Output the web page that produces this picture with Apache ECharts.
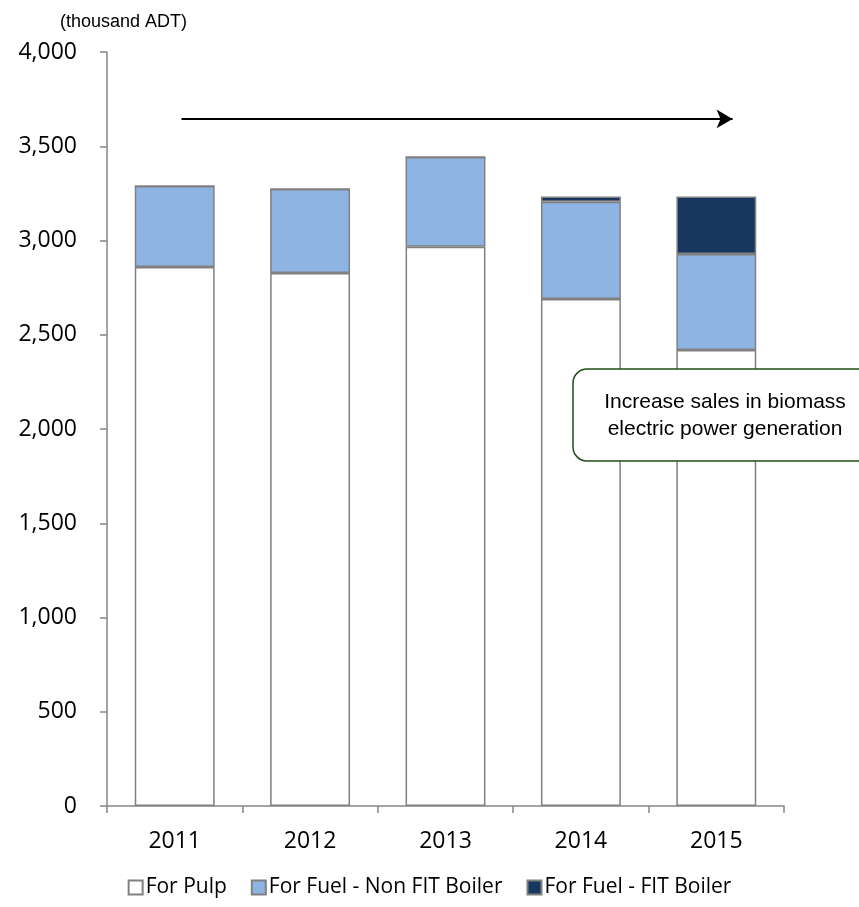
<!DOCTYPE html>
<html><head><meta charset="utf-8">
<script src="https://cdn.jsdelivr.net/npm/echarts@6/dist/echarts.min.js"></script>
<style>html,body{margin:0;padding:0;background:#fff}#c{width:859px;height:907px}</style>
</head><body><div id="c"></div>
<script>
var years = ['2011','2012','2013','2014','2015'];
var forPulp = [2859, 2827, 2967, 2690, 2419];
var nonFit = [430, 446, 476, 516, 509];
var fitBoiler = [0, 0, 0, 28, 306];
var yTicks = [0, 500, 1000, 1500, 2000, 2500, 3000, 3500, 4000];
var arrowLevel = 3645;
var arrowFrom = 0.05, arrowTo = 4.12;

var chart = echarts.init(document.getElementById('c'));
var border = {borderColor:'#808080', borderWidth:1.5};
chart.setOption({
  animation:false,
  grid:{left:107, right:75, top:52, bottom:101},
  xAxis:{type:'category', data:years,
    axisLine:{lineStyle:{color:'#868686', width:1.5}},
    axisTick:{show:true, length:7, lineStyle:{color:'#868686', width:1.5}},
    axisLabel:{fontFamily:'Open Sans', fontSize:23, color:'#000', margin:24}},
  yAxis:{type:'value', min:yTicks[0], max:yTicks[yTicks.length-1], interval:500,
    splitLine:{show:false},
    axisLine:{show:true, lineStyle:{color:'#868686', width:1.5}},
    axisTick:{show:true, length:7, lineStyle:{color:'#868686', width:1.5}},
    axisLabel:{fontFamily:'Open Sans', fontSize:23, color:'#000', margin:30,
      formatter:function(v){return v.toLocaleString('en-US');}}},
  legend:{top:872, left:'center', itemWidth:14, itemHeight:14, itemGap:24,
    icon:'rect',
    textStyle:{fontFamily:'Open Sans', fontSize:21, color:'#000', padding:[0,0,0,-2]},
    data:['For Pulp','For Fuel - Non FIT Boiler','For Fuel - FIT Boiler']},
  graphic:[
    {type:'text', x:60, y:13, style:{text:'(thousand ADT)', font:'18px Liberation Sans, Arial', fill:'#000'}},
    {type:'group', x:573, y:369, z:100, children:[
      {type:'rect', z:100, shape:{x:0,y:0,width:300,height:92,r:14}, style:{fill:'#fff', stroke:'#1f4e14', lineWidth:1.5}},
      {type:'text', z:101, x:152, y:47, style:{text:'Increase sales in biomass\nelectric power generation', font:'21px Liberation Sans, Arial', fill:'#000', align:'center', verticalAlign:'middle', lineHeight:27}}
    ]}
  ],
  series:[
    {name:'For Pulp', type:'bar', stack:'t', barWidth:'59%', data:forPulp,
      itemStyle:Object.assign({color:'#ffffff'}, border)},
    {name:'For Fuel - Non FIT Boiler', type:'bar', stack:'t', data:nonFit,
      itemStyle:Object.assign({color:'#8EB4E3'}, border)},
    {name:'For Fuel - FIT Boiler', type:'bar', stack:'t', data:fitBoiler,
      itemStyle:Object.assign({color:'#17375E'}, border)}
  ]
});

// arrow placed through the axes' own scales (fractional category positions interpolated)
function xAt(f){
  var i = Math.floor(f), t = f - i;
  var a = chart.convertToPixel({xAxisIndex:0}, years[i]);
  var b = chart.convertToPixel({xAxisIndex:0}, years[Math.min(i+1, years.length-1)]);
  if (i + 1 >= years.length) { b = a + (a - chart.convertToPixel({xAxisIndex:0}, years[i-1])); }
  return a + (b - a) * t;
}
var yPix = chart.convertToPixel({yAxisIndex:0}, arrowLevel);
chart.setOption({series:[{name:'For Pulp',
  markLine:{silent:true, symbol:['none','arrow'], symbolSize:[14,16],
    lineStyle:{color:'#000', width:2, type:'solid'}, label:{show:false},
    data:[[{x:xAt(arrowFrom), y:yPix},{x:xAt(arrowTo), y:yPix}]]}}]});
</script></body></html>
